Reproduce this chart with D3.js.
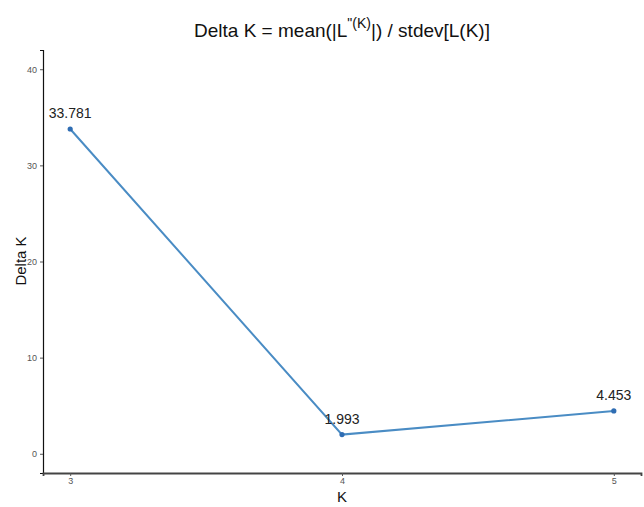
<!DOCTYPE html>
<html><head><meta charset="utf-8">
<script src="https://cdn.jsdelivr.net/npm/d3@7"></script>
<style>body{margin:0;background:#fff;} text{font-family:"Liberation Sans",Arial,sans-serif;}</style>
</head><body>
<svg id="c" width="644" height="507"></svg>
<script>
const kValues = [3, 4, 5];
const deltaK = [33.781, 1.993, 4.453];
const pointLabels = ["33.781", "1.993", "4.453"];
const yTicks = [0, 10, 20, 30, 40];

const svg = d3.select("#c");
const x = d3.scaleLinear().domain([2.9, 5.1]).range([43, 641]);
const y = d3.scaleLinear().domain([-2, 42]).range([473, 50]);

// axes
const yAxis = svg.append("g").attr("transform", "translate(43,0)")
  .call(d3.axisLeft(y).tickValues(yTicks).tickSize(3).tickPadding(3));
yAxis.select(".domain").attr("stroke", "#111").attr("stroke-width", 1.2);
yAxis.selectAll(".tick line").attr("stroke", "#555");
yAxis.selectAll(".tick text").attr("fill", "#555").style("font-size", "9px");

const xAxis = svg.append("g").attr("transform", "translate(0,473)")
  .call(d3.axisBottom(x).tickValues(kValues).tickFormat(d3.format("d")).tickSize(3).tickPadding(2));
xAxis.select(".domain").attr("stroke", "#444").attr("stroke-width", 1.8);
xAxis.selectAll(".tick line").attr("stroke", "#555");
xAxis.selectAll(".tick text").attr("fill", "#555").style("font-size", "9px");

const data = kValues.map((k, i) => ({k, v: deltaK[i], lab: pointLabels[i]}));

svg.append("path").datum(data)
  .attr("fill", "none").attr("stroke", "#4a8cc4").attr("stroke-width", 2)
  .attr("d", d3.line().x(d => x(d.k)).y(d => y(d.v)));

svg.selectAll("circle.pt").data(data).enter().append("circle")
  .attr("cx", d => x(d.k)).attr("cy", d => y(d.v)).attr("r", 2.6)
  .attr("fill", "#2f6db3");

svg.selectAll("text.lab").data(data).enter().append("text")
  .attr("x", d => x(d.k)).attr("y", d => y(d.v) - 11)
  .attr("text-anchor", "middle").style("font-size", "14px").attr("fill", "#222")
  .text(d => d.lab);

// title
const t = svg.append("text").attr("x", 342).attr("y", 37).attr("text-anchor", "middle")
  .style("font-size", "19px").attr("fill", "#111");
t.append("tspan").text("Delta K = mean(|L");
t.append("tspan").attr("dy", -9).style("font-size", "14px").text("\"(K)");
t.append("tspan").attr("dy", 9).text("|) / stdev[L(K)]");

// axis titles
svg.append("text").attr("x", 342).attr("y", 502).attr("text-anchor", "middle")
  .style("font-size", "15px").attr("fill", "#111").text("K");
svg.append("text").attr("transform", "translate(26,261) rotate(-90)").attr("text-anchor", "middle")
  .style("font-size", "15px").attr("fill", "#111").text("Delta K");
</script>
</body></html>
